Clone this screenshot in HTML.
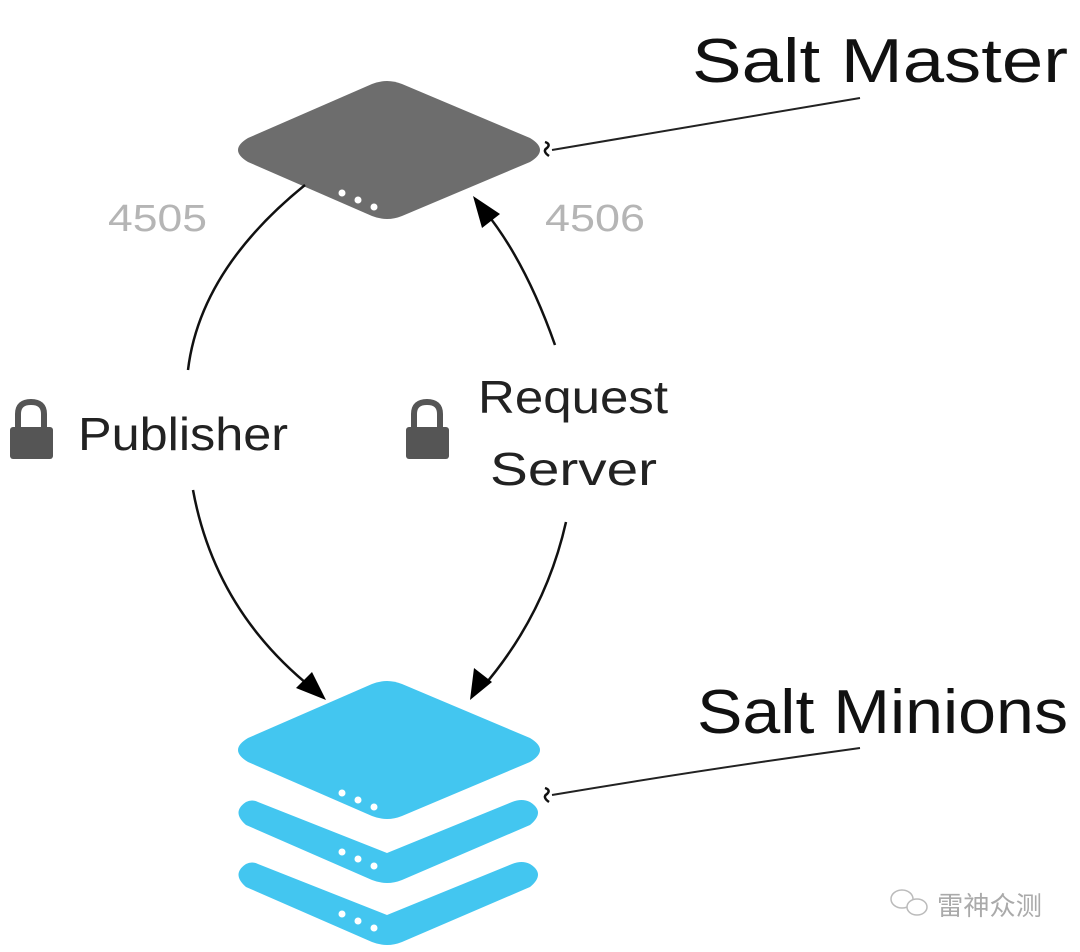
<!DOCTYPE html>
<html><head><meta charset="utf-8"><style>
html,body{margin:0;padding:0;background:#fff;}
svg{display:block}
</style></head><body>
<svg width="1080" height="952" viewBox="0 0 1080 952" xmlns="http://www.w3.org/2000/svg">
<!-- master -->
<path d="M248,138 L372,84 Q387,78 402,84 L530,138 Q550,150 530,162 L402,216 Q387,222 372,216 L248,162 Q228,150 248,138 Z" fill="#6d6d6d"/>
<circle cx="342" cy="193" r="3.5" fill="#fff"/><circle cx="358" cy="200" r="3.5" fill="#fff"/><circle cx="374" cy="207" r="3.5" fill="#fff"/>
<!-- minions -->
<g fill="#43c6f0">
<path d="M248,738 L372,684 Q387,678 402,684 L530,738 Q550,750 530,762 L402,816 Q387,822 372,816 L248,762 Q228,750 248,738 Z"/>
<path d="M246,802 Q231,812 246,825 L372,880 Q387,886 402,880 L530,825 Q546,812 530,802 Q522,798 512,802 L387,853 L258,802 Q252,799 246,802 Z"/>
<path d="M246,864 Q231,874 246,887 L372,942 Q387,948 402,942 L530,887 Q546,874 530,864 Q522,860 512,864 L387,915 L258,864 Q252,861 246,864 Z"/>
</g>
<g fill="#fff">
<circle cx="342" cy="793" r="3.5"/><circle cx="358" cy="800" r="3.5"/><circle cx="374" cy="807" r="3.5"/>
<circle cx="342" cy="852" r="3.5"/><circle cx="358" cy="859" r="3.5"/><circle cx="374" cy="866" r="3.5"/>
<circle cx="342" cy="914" r="3.5"/><circle cx="358" cy="921" r="3.5"/><circle cx="374" cy="928" r="3.5"/>
</g>
<!-- connectors -->
<g fill="none" stroke="#111" stroke-width="2.5">
<path d="M305,185 Q200,270 188,370"/>
<path d="M193,490 Q215,610 312,688"/>
<path d="M555,345 Q525,260 484,210"/>
<path d="M566,522 Q545,615 482,688"/>
</g>
<g fill="#000">
<polygon points="326,700 296,688 312,672"/>
<polygon points="470,700 474,668 492,682"/>
<polygon points="473,196 500,214 482,228"/>
</g>
<!-- leader lines -->
<path d="M552,150 Q700,125 860,98" fill="none" stroke="#222" stroke-width="2"/>
<path d="M552,795 Q700,770 860,748" fill="none" stroke="#222" stroke-width="2"/>
<path d="M545,142 q6,2 2,6 q-5,3 2,8" fill="none" stroke="#111" stroke-width="2.5"/>
<path d="M545,788 q6,2 2,6 q-5,3 2,8" fill="none" stroke="#111" stroke-width="2.5"/>
<!-- locks -->
<g fill="#555">
<path d="M18,428 L18,414 Q18,402 31,402 Q44,402 44,414 L44,428" fill="none" stroke="#555" stroke-width="6"/>
<rect x="10" y="427" width="43" height="32" rx="3"/>
<path d="M414,428 L414,414 Q414,402 427,402 Q440,402 440,414 L440,428" fill="none" stroke="#555" stroke-width="6"/>
<rect x="406" y="427" width="43" height="32" rx="3"/>
</g>
<g font-family="Liberation Sans, sans-serif">
<text x="108" y="231" font-size="38" fill="#b5b5b5" textLength="99" lengthAdjust="spacingAndGlyphs">4505</text>
<text x="545" y="231" font-size="38" fill="#b5b5b5" textLength="100" lengthAdjust="spacingAndGlyphs">4506</text>
<text x="78" y="450" font-size="46" fill="#222" textLength="210" lengthAdjust="spacingAndGlyphs">Publisher</text>
<text x="478" y="413" font-size="46" fill="#222" textLength="190" lengthAdjust="spacingAndGlyphs">Request</text>
<text x="490" y="485" font-size="46" fill="#222" textLength="167" lengthAdjust="spacingAndGlyphs">Server</text>
<text x="692" y="82" font-size="62" fill="#111" textLength="376" lengthAdjust="spacingAndGlyphs">Salt Master</text>
<text x="697" y="733" font-size="62" fill="#111" textLength="371" lengthAdjust="spacingAndGlyphs">Salt Minions</text>
</g>
<!-- watermark -->
<g fill="none" stroke="#bbb" stroke-width="1.5">
<ellipse cx="902" cy="899" rx="11" ry="9"/><ellipse cx="917" cy="907" rx="10" ry="8" fill="#fff"/>
</g>
<text x="937" y="915" font-size="26" fill="#aaa" font-family="Liberation Sans, Noto Sans CJK SC, sans-serif" textLength="105" lengthAdjust="spacingAndGlyphs">雷神众测</text>
</svg>
</body></html>
